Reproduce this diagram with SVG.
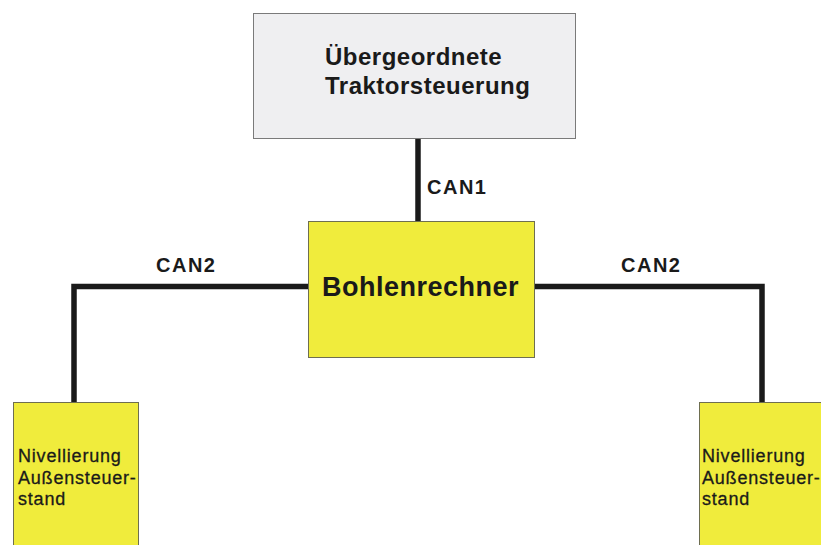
<svg xmlns="http://www.w3.org/2000/svg" width="821" height="545" viewBox="0 0 821 545">
<style>
.box{stroke:#6e6e50;stroke-width:1}
.gray{fill:#efeff1;stroke:#7a7a7a}
.yel{fill:#f0ec3c}
.t{font-family:"Liberation Sans",Arial,sans-serif;fill:#1a1a1a}
.b{font-weight:bold}
.lbl{font-size:20px;font-weight:bold;letter-spacing:1.5px}
.sm{font-size:18px;letter-spacing:0.8px;stroke:#1a1a1a;stroke-width:0.3}
.wire{fill:none;stroke:#1a1a1a;stroke-width:5.5;stroke-linejoin:miter}
</style>
<rect width="821" height="545" fill="#ffffff"/>
<g id="connectors">
<line class="wire" x1="418" y1="139" x2="418" y2="221"/>
<polyline class="wire" points="308,286.5 74,286.5 74,402"/>
<polyline class="wire" points="535,286.5 762,286.5 762,402"/>
<text class="t lbl" x="427" y="194">CAN1</text>
<text class="t lbl" x="156" y="272">CAN2</text>
<text class="t lbl" x="621" y="272">CAN2</text>
</g>
<g id="traktor">
<rect class="box gray" x="253.5" y="13.5" width="322" height="125"/>
<text class="t b" x="325" y="65" font-size="24" letter-spacing="0.5">Übergeordnete</text>
<text class="t b" x="325" y="94" font-size="24" letter-spacing="0.5">Traktorsteuerung</text>
</g>
<g id="bohlenrechner">
<rect class="box yel" x="308.5" y="221.5" width="226" height="136"/>
<text class="t b" x="322" y="296" font-size="27" letter-spacing="0.5">Bohlenrechner</text>
</g>
<g id="nivellierung-links">
<rect class="box yel" x="13.5" y="402.5" width="125" height="150"/>
<text class="t sm" x="18" y="462">Nivellierung</text>
<text class="t sm" x="18" y="484">Außensteuer-</text>
<text class="t sm" x="18" y="505">stand</text>
</g>
<g id="nivellierung-rechts">
<rect class="box yel" x="699.5" y="402.5" width="130" height="150"/>
<text class="t sm" x="702" y="462">Nivellierung</text>
<text class="t sm" x="702" y="484">Außensteuer-</text>
<text class="t sm" x="702" y="505">stand</text>
</g>
</svg>
